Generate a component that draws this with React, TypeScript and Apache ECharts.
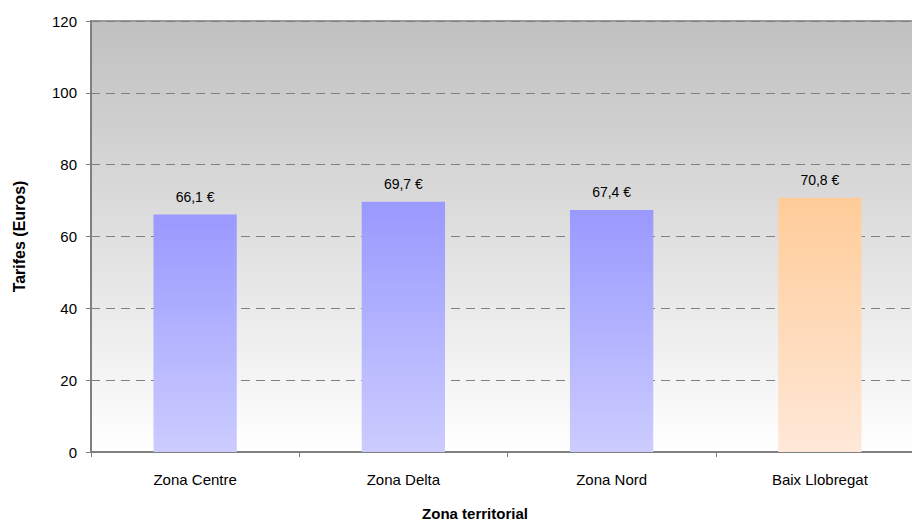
import React, { useEffect, useRef } from "react";
import * as echarts from "echarts";

const categories = ["Zona Centre", "Zona Delta", "Zona Nord", "Baix Llobregat"];
const values = [66.1, 69.7, 67.4, 70.8];
const highlightIndex = 3;
const yTicks = { min: 0, max: 120, interval: 20 };

const FONT = "'Liberation Sans', Arial, sans-serif";

export default function App() {
  const ref = useRef<HTMLDivElement>(null);
  useEffect(() => {
    if (!ref.current) return;
    const chart = echarts.init(ref.current, null, { renderer: "svg" });
    const blue = new echarts.graphic.LinearGradient(0, 0, 0, 1, [
      { offset: 0, color: "#9999ff" },
      { offset: 1, color: "#ccccff" },
    ]);
    const orange = new echarts.graphic.LinearGradient(0, 0, 0, 1, [
      { offset: 0, color: "#ffcc99" },
      { offset: 1, color: "#ffe8d8" },
    ]);
    chart.setOption({
      animation: false,
      textStyle: { fontFamily: FONT },
      grid: {
        left: 91,
        width: 833,
        top: 21,
        height: 431,
        containLabel: false,
        outerBoundsMode: "none",
        show: true,
        borderColor: "#999999",
        borderWidth: 2,
        backgroundColor: new echarts.graphic.LinearGradient(0, 0, 0, 1, [
          { offset: 0, color: "#c0c0c0" },
          { offset: 1, color: "#ffffff" },
        ]),
      },
      xAxis: {
        type: "category",
        data: categories,
        axisLine: { lineStyle: { color: "#808080", width: 2 } },
        axisTick: { show: true, length: 5, lineStyle: { color: "#808080" } },
        axisLabel: { color: "#000", fontSize: 15, margin: 20, fontFamily: FONT },
      },
      yAxis: {
        type: "value",
        min: yTicks.min,
        max: yTicks.max,
        interval: yTicks.interval,
        name: "Tarifes (Euros)",
        nameLocation: "middle",
        nameGap: 64,
        nameTextStyle: { color: "#000", fontSize: 16, fontWeight: "bold", fontFamily: FONT },
        axisLine: { show: true, lineStyle: { color: "#808080", width: 2 } },
        axisTick: { show: true, length: 5, lineStyle: { color: "#808080" } },
        axisLabel: { color: "#000", fontSize: 15, margin: 14, fontFamily: FONT },
        splitLine: { show: true, lineStyle: { color: "#808080", type: [9, 6], width: 1 } },
      },
      graphic: [
        {
          type: "text",
          x: 475,
          y: 513,
          style: {
            text: "Zona territorial",
            fill: "#000",
            font: `bold 15px ${FONT}`,
            textAlign: "center",
            textVerticalAlign: "middle",
          },
        },
      ],
      series: [
        {
          type: "bar",
          barWidth: "40%",
          data: values.map((v, i) => ({
            value: v,
            itemStyle: { color: i === highlightIndex ? orange : blue },
          })),
          label: {
            show: true,
            position: "top",
            distance: 11,
            color: "#000",
            fontSize: 14,
            fontFamily: FONT,
            formatter: (p: any) => `${String(p.value).replace(".", ",")} €`,
          },
        },
      ],
    });
    return () => chart.dispose();
  }, []);
  return <div ref={ref} style={{ width: 912, height: 523, position: "absolute", left: 0, top: 0 }} />;
}
